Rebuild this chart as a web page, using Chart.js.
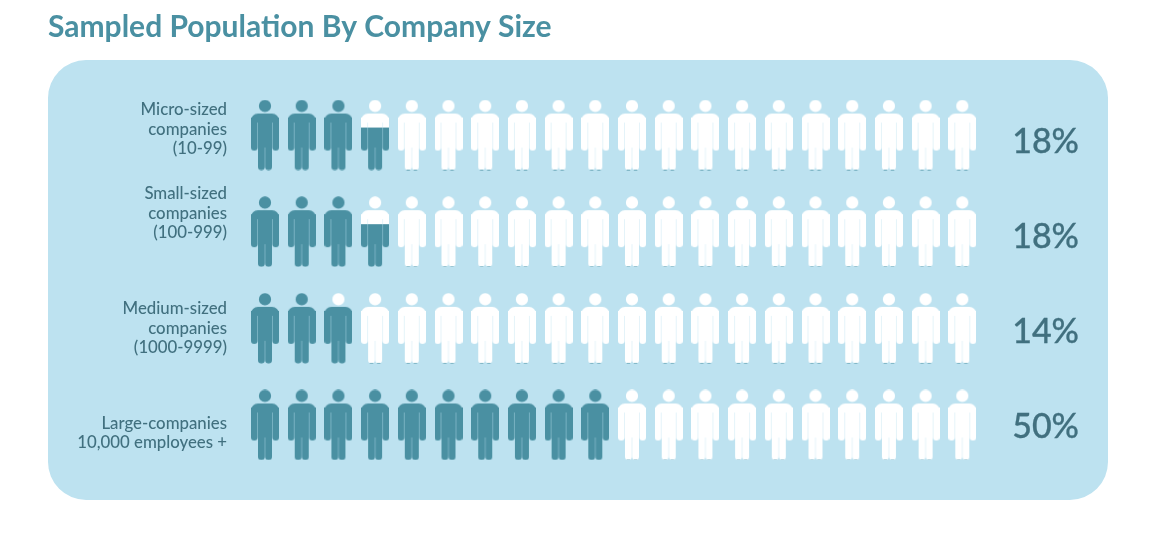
<!DOCTYPE html>
<html>
<head>
<meta charset="utf-8">
<title>Sampled Population By Company Size</title>
<script src="https://cdn.jsdelivr.net/npm/chart.js@4/dist/chart.umd.min.js"></script>
<style>
  html, body { margin: 0; padding: 0; background: #fff; }
  #wrap { width: 1175px; height: 537px; }
</style>
</head>
<body>
<div id="wrap"><canvas id="chart"></canvas></div>
<script>
const chartTitle = 'Sampled Population By Company Size';
const companySizes = ['Micro', 'Small', 'Medium', 'Large'];
const rowLabels = [
  ['Micro-sized', 'companies', '(10-99)'],
  ['Small-sized', 'companies', '(100-999)'],
  ['Medium-sized', 'companies', '(1000-9999)'],
  ['Large-companies', '10,000 employees +']
];
const percentages = [18, 18, 14, 50];
const iconSlots = ['1', '2', '3', '4', '5', '6', '7', '8', '9', '10', '11', '12', '13', '14', '15', '16', '17', '18', '19', '20'];
const percentPerIcon = 5;

// text in the picture does not sit on the row centres, so nudge it per row
const labelShift = [-5.5, -18.5, 0, 8];
const percentShift = [7.5, 5.5, 3.5, 2.5];

const DARK = '#4a90a2';
const PANEL = '#bde2f0';
const TEXT = '#41707f';

function personPath(c) {
  c.beginPath();
  c.arc(14, 6.4, 6.1, 0, Math.PI * 2);
  c.roundRect(0, 14, 28, 9, [7, 7, 0, 0]);
  c.roundRect(0, 18, 6.6, 33, [0, 0, 3, 3]);
  c.roundRect(21.4, 18, 6.6, 33, [0, 0, 3, 3]);
  c.rect(7, 18, 14, 30);
  c.roundRect(7, 42, 6.8, 28.5, [0, 0, 3.2, 3.2]);
  c.roundRect(14.2, 42, 6.8, 28.5, [0, 0, 3.2, 3.2]);
}

const icons = {};
function personIcon(fraction) {
  if (icons[fraction]) return icons[fraction];
  const cv = document.createElement('canvas');
  cv.width = 28;
  cv.height = 71;
  const c = cv.getContext('2d');
  const split = 70 * (1 - fraction);
  c.save();
  c.beginPath();
  c.rect(0, 0, 28, split);
  c.clip();
  c.fillStyle = '#ffffff';
  personPath(c);
  c.fill();
  c.restore();
  c.save();
  c.beginPath();
  c.rect(0, split, 28, 71 - split);
  c.clip();
  c.fillStyle = DARK;
  personPath(c);
  c.fill();
  c.restore();
  icons[fraction] = cv;
  return cv;
}

const panelPlugin = {
  id: 'panel',
  beforeDraw(chart) {
    const c = chart.ctx;
    c.save();
    c.fillStyle = PANEL;
    c.beginPath();
    c.roundRect(48, 60, 1060, 440, 38);
    c.fill();
    c.restore();
  }
};

const textPlugin = {
  id: 'rowText',
  afterDraw(chart) {
    const c = chart.ctx;
    const y = chart.scales.y;
    c.save();
    c.fillStyle = TEXT;
    c.strokeStyle = TEXT;
    c.textBaseline = 'middle';
    c.textAlign = 'right';
    companySizes.forEach((size, i) => {
      const mid = y.getPixelForValue(i);
      const lines = rowLabels[i];
      c.font = '500 16.8px Lato';
      lines.forEach((line, n) => {
        c.fillText(line, 227, mid + labelShift[i] + (n - (lines.length - 1) / 2) * 19.5);
      });
      c.font = '500 34px Lato';
      c.lineWidth = 0.3;
      const pct = percentages[i] + '%';
      c.fillText(pct, 1079, mid + percentShift[i]);
      c.strokeText(pct, 1079, mid + percentShift[i]);
    });
    c.restore();
  }
};

new Chart(document.getElementById('chart'), {
  type: 'scatter',
  plugins: [panelPlugin, textPlugin],
  data: {
    datasets: companySizes.map((size, row) => ({
      label: size,
      data: iconSlots.map(slot => ({ x: slot, y: size })),
      pointStyle: ctx => {
        const filled = percentages[row] / percentPerIcon - ctx.dataIndex;
        return personIcon(Math.round(Math.max(0, Math.min(1, filled)) * 100) / 100);
      },
      pointRadius: 14
    }))
  },
  options: {
    responsive: true,
    maintainAspectRatio: false,
    animation: false,
    events: [],
    layout: { padding: { left: 48, right: 0, top: 0, bottom: 63.7 } },
    plugins: {
      legend: { display: false },
      tooltip: { enabled: false },
      title: {
        display: true,
        text: chartTitle,
        align: 'start',
        color: DARK,
        font: { family: 'Lato', size: 30, weight: '700', lineHeight: 1.1 },
        padding: { top: 10.5, bottom: 43.2 }
      }
    },
    scales: {
      x: {
        type: 'category',
        labels: iconSlots,
        offset: true,
        grid: { display: false },
        border: { display: false },
        ticks: { display: false },
        afterFit: s => { s.height = 0; }
      },
      y: {
        type: 'category',
        labels: companySizes,
        offset: true,
        grid: { display: false },
        border: { display: false },
        ticks: { display: false },
        afterFit: s => { s.width = 198.65; }
      },
      yRight: {
        type: 'category',
        position: 'right',
        labels: companySizes,
        grid: { display: false },
        border: { display: false },
        ticks: { display: false },
        afterFit: s => { s.width = 194.35; }
      }
    }
  }
});
</script>
</body>
</html>
